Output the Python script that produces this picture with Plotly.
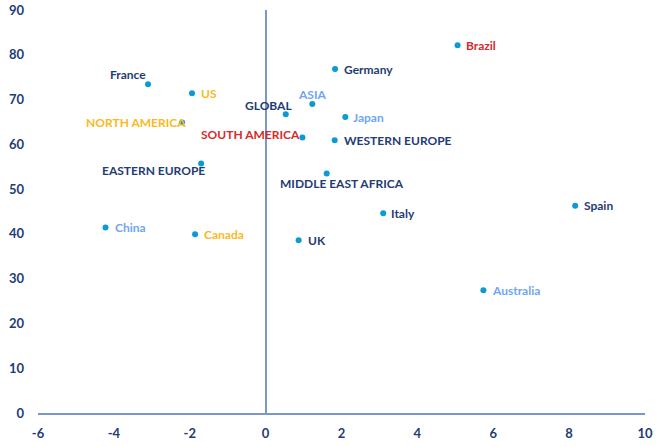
import plotly.graph_objects as go

# data
names = ["Brazil", "Germany", "France", "US", "ASIA", "GLOBAL", "Japan",
         "NORTH AMERICA", "SOUTH AMERICA", "WESTERN EUROPE", "EASTERN EUROPE",
         "MIDDLE EAST AFRICA", "Italy", "China", "Canada", "UK", "Spain", "Australia"]
x_vals = [5.06, 1.83, -3.1, -1.94, 1.23, 0.53, 2.1,
          -2.2, 0.97, 1.82, -1.7,
          1.61, 3.1, -4.22, -1.86, 0.87, 8.16, 5.74]
y_vals = [82.1, 76.8, 73.4, 71.4, 69.0, 66.7, 66.1,
          64.9, 61.5, 60.9, 55.7,
          53.5, 44.6, 41.4, 39.9, 38.6, 46.3, 27.4]
x_ticks = [-6, -4, -2, 0, 2, 4, 6, 8, 10]
y_ticks = [0, 10, 20, 30, 40, 50, 60, 70, 80, 90]

NAVY = "#1f3c74"
YELLOW = "#f9b91b"
RED = "#d52b2b"
LIGHT = "#6ea6f2"
DOT = "#0b9ad4"
AXIS = "#7b97c9"

# label placement: xanchor, xshift, yshift, colour
label_style = {
    "Brazil": ("left", 7, 0, RED),
    "Germany": ("left", 8, 0, NAVY),
    "France": ("right", -1, 10, NAVY),
    "US": ("left", 8, 0, YELLOW),
    "ASIA": ("center", 0, 10, LIGHT),
    "GLOBAL": ("center", -17, 9, NAVY),
    "Japan": ("left", 7, 0, LIGHT),
    "NORTH AMERICA": ("right", 5, 0, YELLOW),
    "SOUTH AMERICA": ("right", -1, 3, RED),
    "WESTERN EUROPE": ("left", 8, 0, NAVY),
    "EASTERN EUROPE": ("right", 5, -7, NAVY),
    "MIDDLE EAST AFRICA": ("center", 15, -10, NAVY),
    "Italy": ("left", 7, 0, NAVY),
    "China": ("left", 8, 0, LIGHT),
    "Canada": ("left", 8, 0, YELLOW),
    "UK": ("left", 8, 0, NAVY),
    "Spain": ("left", 8, 0, NAVY),
    "Australia": ("left", 8, 0, LIGHT),
}

fig = go.Figure()
fig.add_trace(go.Scatter(
    x=x_vals, y=y_vals,
    mode="markers",
    marker=dict(color=DOT, size=6),
    hoverinfo="skip",
    cliponaxis=False,
))

for n, xv, yv in zip(names, x_vals, y_vals):
    xa, dx, dy, col = label_style[n]
    fig.add_annotation(
        x=xv, y=yv, text=n, showarrow=False,
        xanchor=xa, yanchor="middle", xshift=dx, yshift=dy,
        borderpad=0,
        font=dict(family="Lato", size=12, weight="bold", color=col),
    )

fig.update_layout(
    width=671, height=447,
    margin=dict(l=38, r=26, t=10, b=34),
    paper_bgcolor="white", plot_bgcolor="white",
    showlegend=False,
    font=dict(family="Lato", color=NAVY),
)
fig.update_xaxes(
    range=[-6, 10], tickvals=x_ticks, ticktext=[str(v) for v in x_ticks],
    showgrid=False, zeroline=True, zerolinecolor=AXIS, zerolinewidth=2,
    showline=True, linecolor=AXIS, linewidth=2,
    ticks="", ticklabelstandoff=7, automargin=False,
    tickfont=dict(family="Lato", size=13, weight="bold", color=NAVY),
)
fig.update_yaxes(
    range=[0, 90], tickvals=y_ticks, ticktext=[str(v) for v in y_ticks],
    showgrid=False, zeroline=False, showline=False,
    ticks="", ticklabelstandoff=13, automargin=False,
    tickfont=dict(family="Lato", size=13, weight="bold", color=NAVY),
)

# page body has a default 8px margin, drop it so the chart fills the window
fig.write_html("out.html", config={"displayModeBar": False},
               post_script="document.body.style.margin='0';")
